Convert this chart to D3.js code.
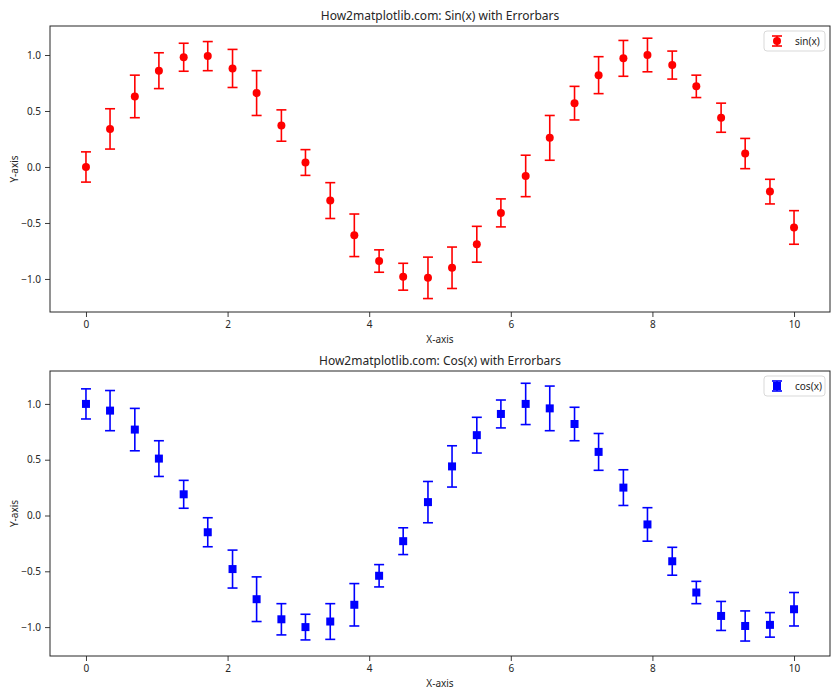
<!DOCTYPE html>
<html>
<head>
<meta charset="utf-8">
<script src="https://cdn.jsdelivr.net/npm/d3@7"></script>
<style>
  html, body { margin: 0; padding: 0; background: #fff; }
  svg text { font-family: "Noto Sans", "Open Sans", "DejaVu Sans", sans-serif; fill: #262626; }
</style>
</head>
<body>
<svg id="chart" width="840" height="700"></svg>
<script>
// ---- data ----
const xValues = [0.00, 0.34, 0.69, 1.03, 1.38, 1.72, 2.07, 2.41, 2.76, 3.10,
                 3.45, 3.79, 4.14, 4.48, 4.83, 5.17, 5.52, 5.86, 6.21, 6.55,
                 6.90, 7.24, 7.59, 7.93, 8.28, 8.62, 8.97, 9.31, 9.66, 10.00];
const sinValues = [0.00, 0.34, 0.63, 0.86, 0.98, 0.99, 0.88, 0.66, 0.37, 0.04,
                   -0.30, -0.61, -0.84, -0.98, -0.99, -0.90, -0.69, -0.41, -0.08, 0.26,
                   0.57, 0.82, 0.97, 1.00, 0.91, 0.72, 0.44, 0.12, -0.22, -0.54];
const cosValues = [1.00, 0.94, 0.77, 0.51, 0.19, -0.15, -0.48, -0.75, -0.93, -1.00,
                   -0.95, -0.80, -0.54, -0.23, 0.12, 0.44, 0.72, 0.91, 1.00, 0.96,
                   0.82, 0.57, 0.25, -0.08, -0.41, -0.69, -0.90, -0.99, -0.98, -0.84];
const yErrors = [0.135, 0.18, 0.19, 0.16, 0.125, 0.13, 0.17, 0.20, 0.14, 0.115,
                 0.16, 0.19, 0.10, 0.12, 0.185, 0.185, 0.16, 0.125, 0.185, 0.20,
                 0.15, 0.165, 0.16, 0.15, 0.125, 0.10, 0.13, 0.135, 0.11, 0.15];
const xTicks = [0, 2, 4, 6, 8, 10];
const yTicks = [-1.0, -0.5, 0.0, 0.5, 1.0];
const titles = ["How2matplotlib.com: Sin(x) with Errorbars", "How2matplotlib.com: Cos(x) with Errorbars"];
const legendLabels = ["sin(x)", "cos(x)"];
const colors = ["#ff0000", "#0000ff"];

const svg = d3.select("#chart");
const panels = [
  { top: 26, bottom: 312, values: sinValues, yDomain: [-1.295, 1.259], marker: "circle" },
  { top: 371, bottom: 656, values: cosValues, yDomain: [-1.259, 1.295], marker: "square" }
];
const left = 50, right = 830;

panels.forEach((p, i) => {
  const x = d3.scaleLinear().domain([-0.508, 10.508]).range([left, right]);
  const y = d3.scaleLinear().domain(p.yDomain).range([p.bottom, p.top]);
  const g = svg.append("g");
  const color = colors[i];
  const data = xValues.map((xv, j) => ({ x: xv, y: p.values[j], e: yErrors[j] }));

  // axes
  const xAxis = g.append("g").attr("transform", `translate(0,${p.bottom})`)
    .call(d3.axisBottom(x).tickValues(xTicks).tickFormat(d3.format("d")).tickSize(5).tickPadding(4));
  const yAxis = g.append("g").attr("transform", `translate(${left},0)`)
    .call(d3.axisLeft(y).tickValues(yTicks).tickFormat(d3.format(".1f")).tickSize(5).tickPadding(4));
  [xAxis, yAxis].forEach(a => {
    a.select(".domain").remove();
    a.selectAll(".tick line").attr("stroke", "#262626").attr("stroke-width", 0.9);
    a.selectAll(".tick text").attr("font-size", 10).attr("fill", "#262626")
      .style("font-family", '"Noto Sans", "Open Sans", sans-serif');
  });
  // yAxis labels use minus sign like matplotlib
  yAxis.selectAll(".tick text").text(d => d3.format(".1f")(d).replace("-", "\u2212"));

  // frame
  g.append("rect").attr("x", left).attr("y", p.top)
    .attr("width", right - left).attr("height", p.bottom - p.top)
    .attr("fill", "none").attr("stroke", "#262626").attr("stroke-width", 1);

  // error bars
  const eb = g.append("g");
  eb.selectAll("line.v").data(data).join("line")
    .attr("x1", d => x(d.x)).attr("x2", d => x(d.x))
    .attr("y1", d => y(d.y - d.e)).attr("y2", d => y(d.y + d.e))
    .attr("stroke", color).attr("stroke-width", 1.6);
  ["top", "bot"].forEach(k => {
    eb.selectAll("line.c" + k).data(data).join("line")
      .attr("x1", d => x(d.x) - 5).attr("x2", d => x(d.x) + 5)
      .attr("y1", d => y(k === "top" ? d.y + d.e : d.y - d.e))
      .attr("y2", d => y(k === "top" ? d.y + d.e : d.y - d.e))
      .attr("stroke", color).attr("stroke-width", 1.6);
  });

  // markers
  if (p.marker === "circle") {
    g.selectAll("circle.m").data(data).join("circle")
      .attr("cx", d => x(d.x)).attr("cy", d => y(d.y)).attr("r", 4).attr("fill", color);
  } else {
    g.selectAll("rect.m").data(data).join("rect")
      .attr("x", d => x(d.x) - 4).attr("y", d => y(d.y) - 4)
      .attr("width", 8).attr("height", 8).attr("fill", color);
  }

  // titles & labels
  g.append("text").attr("x", (left + right) / 2).attr("y", p.top - 6)
    .attr("text-anchor", "middle").attr("font-size", 12).text(titles[i]);
  g.append("text").attr("x", (left + right) / 2).attr("y", p.bottom + 31)
    .attr("text-anchor", "middle").attr("font-size", 10).text("X-axis");
  g.append("text").attr("transform", `translate(18,${(p.top + p.bottom) / 2}) rotate(-90)`)
    .attr("text-anchor", "middle").attr("font-size", 10).text("Y-axis");

  // legend
  const lg = g.append("g").attr("transform", `translate(${right - 66},${p.top + 5})`);
  lg.append("rect").attr("x", 0).attr("y", 0).attr("width", 61).attr("height", 20)
    .attr("rx", 3).attr("fill", "#fff").attr("fill-opacity", 0.8)
    .attr("stroke", "#d9d9d9").attr("stroke-width", 1);
  const mx = 13, my = 10;
  lg.append("line").attr("x1", mx).attr("x2", mx).attr("y1", my - 5).attr("y2", my + 5)
    .attr("stroke", color).attr("stroke-width", 1.6);
  [my - 5, my + 5].forEach(yy => lg.append("line").attr("x1", mx - 5).attr("x2", mx + 5)
    .attr("y1", yy).attr("y2", yy).attr("stroke", color).attr("stroke-width", 1.6));
  if (p.marker === "circle") {
    lg.append("circle").attr("cx", mx).attr("cy", my).attr("r", 4).attr("fill", color);
  } else {
    lg.append("rect").attr("x", mx - 4).attr("y", my - 4).attr("width", 8).attr("height", 8).attr("fill", color);
  }
  lg.append("text").attr("x", 31).attr("y", my + 3.5).attr("font-size", 10).text(legendLabels[i]);
});
</script>
</body>
</html>
